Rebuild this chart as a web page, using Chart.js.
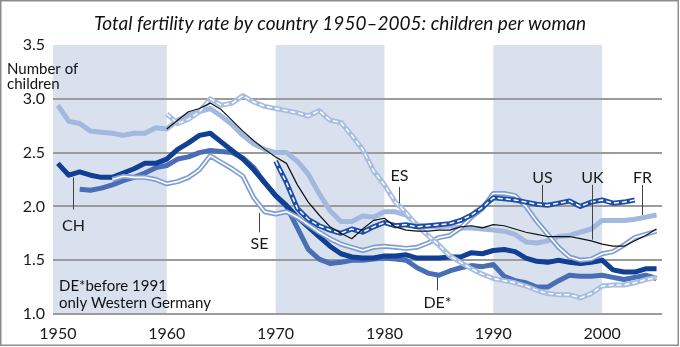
<!DOCTYPE html>
<html>
<head>
<meta charset="utf-8">
<script src="https://cdn.jsdelivr.net/npm/chart.js@4.4.0/dist/chart.umd.min.js"></script>
<style>
  html, body { margin: 0; padding: 0; background: #fff; }
  #wrap { position: relative; width: 680px; height: 347px; }
</style>
</head>
<body>
<div id="wrap"><canvas id="fertChart"></canvas></div>
<script>
// ---------- data (children per woman) ----------
const years = [];
for (let y = 1950; y <= 2005; y++) years.push(y);

const ch = [2.40,2.29,2.32,2.29,2.27,2.27,2.31,2.35,2.40,2.40,
            2.44,2.53,2.59,2.66,2.68,2.60,2.52,2.44,2.34,2.22,
            2.10,2.01,1.90,1.81,1.72,1.63,1.56,1.53,1.52,1.52,
            1.54,1.54,1.55,1.52,1.52,1.52,1.53,1.53,1.57,1.56,
            1.59,1.60,1.58,1.52,1.49,1.48,1.50,1.48,1.47,1.48,
            1.50,1.41,1.39,1.39,1.42,1.42];

const de = [null,null,2.16,2.15,2.17,2.20,2.24,2.27,2.31,2.36,
            2.38,2.44,2.46,2.50,2.52,2.51,2.50,2.45,2.36,2.22,
            2.10,2.00,1.80,1.60,1.51,1.47,1.48,1.50,1.50,1.51,
            1.52,1.51,1.50,1.43,1.38,1.36,1.40,1.43,1.45,1.44,
            1.46,1.35,1.31,1.29,1.25,1.25,1.31,1.36,1.35,1.35,
            1.36,1.34,1.32,1.34,1.36,1.33];

const fr = [2.94,2.79,2.77,2.70,2.69,2.68,2.66,2.68,2.68,2.73,
            2.72,2.80,2.85,2.88,2.91,2.84,2.76,2.66,2.58,2.53,
            2.50,2.50,2.42,2.30,2.12,1.96,1.86,1.86,1.91,1.90,
            1.95,1.95,1.92,1.83,1.81,1.81,1.82,1.80,1.80,1.79,
            1.78,1.77,1.74,1.67,1.66,1.68,1.72,1.73,1.76,1.79,
            1.87,1.87,1.87,1.88,1.90,1.92];

const se = [null,null,null,null,null,2.25,2.28,2.27,2.27,2.25,
            2.21,2.23,2.27,2.34,2.47,2.41,2.35,2.28,2.08,1.95,
            1.93,1.95,1.90,1.83,1.76,1.70,1.65,1.62,1.59,1.62,
            1.63,1.62,1.61,1.62,1.66,1.71,1.73,1.80,1.90,1.98,
            2.12,2.12,2.10,2.00,1.86,1.74,1.62,1.53,1.50,1.51,
            1.56,1.58,1.64,1.71,1.74,1.77];

const es = [null,null,null,null,null,null,null,null,null,null,
            2.86,2.77,2.81,2.88,3.00,2.94,2.96,3.03,2.97,2.93,
            2.91,2.89,2.87,2.84,2.89,2.80,2.78,2.66,2.53,2.33,
            2.20,2.04,1.94,1.82,1.73,1.64,1.54,1.48,1.42,1.37,
            1.33,1.31,1.29,1.26,1.22,1.19,1.18,1.18,1.15,1.19,
            1.26,1.27,1.27,1.29,1.32,1.34];

const us = [null,null,null,null,null,null,null,null,null,null,
            null,null,null,null,null,null,null,null,null,null,
            2.42,2.22,1.98,1.88,1.82,1.78,1.75,1.79,1.76,1.81,
            1.85,1.82,1.83,1.81,1.82,1.83,1.84,1.87,1.92,1.99,
            2.08,2.07,2.06,2.04,2.02,2.01,2.03,2.05,2.00,2.04,
            2.06,2.03,2.04,2.06,null,null];

const uk = [null,null,null,null,null,null,null,null,null,null,
            2.72,2.80,2.88,2.91,2.96,2.90,2.80,2.70,2.61,2.53,
            2.46,2.40,2.20,2.04,1.92,1.81,1.75,1.70,1.79,1.87,
            1.89,1.81,1.78,1.77,1.77,1.78,1.78,1.81,1.82,1.80,
            1.83,1.82,1.79,1.76,1.74,1.72,1.72,1.72,1.70,1.68,
            1.65,1.63,1.63,1.68,1.73,1.79];

const xTicks = [1950, 1960, 1970, 1980, 1990, 2000];
const yTicks = [1.0, 1.5, 2.0, 2.5, 3.0, 3.5];
const bands = [[1950, 1960], [1970, 1980], [1990, 2000]];

// labels with leader lines: [text, leader year, leader from, leader to, text value]
const tags = [
    ["CH",  1951.4, 2.27, 1.97, 1.82],
    ["SE",  1968.5, 1.94, 1.76, 1.65],
    ["ES",  1981.3, 2.18, 2.03, 2.28],
    ["DE*", 1984.8, 1.34, 1.22, 1.10],
    ["US",  1994.5, 2.20, 2.01, 2.27],
    ["UK",  1999.1, 2.20, 1.69, 2.27],
    ["FR",  2003.7, 2.20, 1.92, 2.27]
];

const FONT = "Lato, 'DejaVu Sans', sans-serif";

function pts(arr) {
    return years.map((yr, i) => ({ x: yr, y: arr[i] }));
}

function line(arr, color, width, dash) {
    return {
        data: pts(arr),
        borderColor: color,
        borderWidth: width,
        borderDash: dash || [],
        borderJoinStyle: "round",
        pointRadius: 0,
        tension: 0,
        spanGaps: false
    };
}

// bottom to top
const layers = [
    line(fr, "#a2b8de", 5),
    line(de, "#4a6eb5", 5),
    line(ch, "#103f93", 5),
    line(se, "#7f9dd1", 5),
    line(se, "#ffffff", 1.6),
    line(es, "#a7bde1", 5),
    line(es, "#ffffff", 1.5, [5, 3]),
    line(us, "#1d4ea6", 5),
    line(us, "#ffffff", 1.5, [5, 3]),
    line(uk, "#111111", 1.2)
];
layers.forEach((d, i) => { d.order = layers.length - i; });

// ---------- plugins ----------
const backdrop = {
    id: "backdrop",
    beforeDraw(chart) {
        const { ctx, chartArea: a, scales: { x } } = chart;
        ctx.save();
        ctx.fillStyle = "#d9e1ee";
        bands.forEach(b => {
            const x0 = b[0] <= x.min + 1 ? a.left : x.getPixelForValue(b[0]);
            const x1 = x.getPixelForValue(b[1]);
            ctx.fillRect(x0, a.top, x1 - x0, a.bottom - a.top);
        });
        ctx.restore();
    }
};

const extras = {
    id: "extras",
    afterDatasetsDraw(chart) {
        const { ctx, scales: { x, y } } = chart;
        ctx.save();
        ctx.fillStyle = "#1a1a1a";
        ctx.strokeStyle = "#444";
        ctx.lineWidth = 1;
        ctx.font = "16px " + FONT;
        ctx.textAlign = "center";
        ctx.textBaseline = "middle";
        tags.forEach(t => {
            const px = Math.round(x.getPixelForValue(t[1])) + 0.5;
            ctx.beginPath();
            ctx.moveTo(px, y.getPixelForValue(t[2]));
            ctx.lineTo(px, y.getPixelForValue(t[3]));
            ctx.stroke();
            ctx.fillText(t[0], px, y.getPixelForValue(t[4]));
        });
        ctx.restore();
    },
    afterDraw(chart) {
        const { ctx, width, height } = chart;
        ctx.save();
        // frame
        ctx.strokeStyle = "#8c8c8c";
        ctx.lineWidth = 1.5;
        ctx.strokeRect(0.75, 0.75, width - 2.5, height - 2.5);
        // title
        ctx.fillStyle = "#111";
        ctx.textAlign = "center";
        ctx.textBaseline = "middle";
        ctx.font = "italic 19px " + FONT;
        ctx.fillText("Total fertility rate by country 1950\u20132005: children per woman", 340, 24);
        // axis caption and note
        ctx.textAlign = "left";
        ctx.textBaseline = "top";
        ctx.font = "15px " + FONT;
        ctx.fillText("Number of", 7, 62);
        ctx.fillText("children", 7, 77);
        ctx.fillText("DE*before 1991", 59, 279);
        ctx.fillText("only Western Germany", 59, 296);
        ctx.restore();
    }
};

new Chart(document.getElementById("fertChart"), {
    type: "line",
    data: { datasets: layers },
    plugins: [backdrop, extras],
    options: {
        responsive: true,
        maintainAspectRatio: false,
        animation: false,
        events: [],
        layout: { padding: { top: 45, right: 18, left: 0, bottom: 0 } },
        plugins: { legend: { display: false }, tooltip: { enabled: false } },
        scales: {
            x: {
                type: "linear",
                min: 1949.55,
                max: 2005.5,
                afterBuildTicks: s => { s.ticks = xTicks.map(v => ({ value: v })); },
                afterFit: s => { s.height = 33; },
                grid: { display: false, drawTicks: false },
                border: { display: false },
                ticks: {
                    padding: 10,
                    color: "#1a1a1a",
                    font: { family: FONT, size: 16 },
                    callback: v => String(v)
                }
            },
            y: {
                min: 1,
                max: 3.5,
                afterBuildTicks: s => { s.ticks = yTicks.map(v => ({ value: v })); },
                afterFit: s => { s.width = 53; },
                grid: {
                    drawTicks: false,
                    lineWidth: 2,
                    color: c => (c.tick && c.tick.value === 3.5) ? "rgba(0,0,0,0)" : "#9b9b9b"
                },
                border: { display: false },
                ticks: {
                    padding: 8,
                    color: "#1a1a1a",
                    font: { family: FONT, size: 16 },
                    callback: v => v.toFixed(1)
                }
            }
        }
    }
});
</script>
</body>
</html>
